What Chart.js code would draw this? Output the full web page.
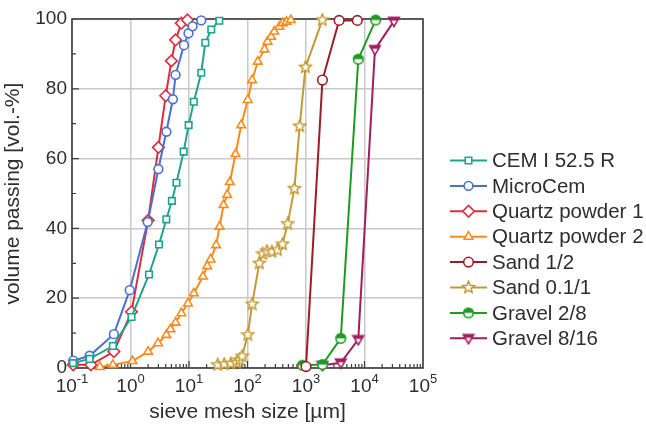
<!DOCTYPE html>
<html>
<head>
<meta charset="utf-8">
<script src="https://cdn.jsdelivr.net/npm/chart.js@4.4.0/dist/chart.umd.min.js"></script>
<style>
  html, body { margin: 0; padding: 0; background: #fff; }
  #wrap { width: 646px; height: 425px; }
</style>
</head>
<body>
<div id="wrap"><canvas id="psdChart"></canvas></div>
<script>
// series names (legend order)
const seriesNames = ['CEM I 52.5 R', 'MicroCem', 'Quartz powder 1', 'Quartz powder 2', 'Sand 1/2', 'Sand 0.1/1', 'Gravel 2/8', 'Gravel 8/16'];

// sieve mesh size [µm] / volume passing [vol.-%]
const cemX = [0.104, 0.2, 0.5, 1.04, 2.07, 3.07, 4.1, 5.1, 6.1, 8.1, 9.85, 12.1, 16.2, 19, 24, 33];
const cemY = [1.4, 2.6, 6.3, 14.6, 26.8, 35.4, 42.6, 47.9, 53.1, 62, 69.6, 76.3, 84.6, 93.2, 97, 99.5];

const microX = [0.105, 0.2, 0.52, 0.97, 1.97, 3.0, 4.1, 5.3, 5.9, 8.2, 9.8, 11.5, 16.2];
const microY = [2.1, 3.5, 9.7, 22.3, 41.8, 57, 67.7, 77, 84, 92.5, 95.9, 97.9, 99.6];

const quartz1X = [0.105, 0.21, 0.52, 1.04, 2.0, 3.0, 4.0, 5.0, 5.9, 7.4, 9.4];
const quartz1Y = [0.9, 0.9, 4.7, 16.1, 42.3, 63.2, 78, 88, 94, 98.8, 99.7];

const quartz2X = [0.3, 0.5, 1.08, 2.0, 2.95, 4.1, 4.8, 5.9, 7.4, 9.6, 12.1, 17.3, 20.5, 23.4, 29.1, 33.3, 38.9, 45, 50, 62.5, 78, 101, 120, 150, 195, 220, 253, 287, 350, 400, 465, 550];
const quartz2Y = [0.3, 0.9, 2.0, 4.7, 7.1, 9.5, 11.1, 13, 15.7, 18.5, 21.4, 26.2, 29.2, 31.1, 35.2, 40.5, 46.7, 49.6, 53.3, 61.3, 69.6, 76.8, 82.5, 87.8, 91.3, 93.5, 94.9, 96.4, 97.8, 98.8, 99.2, 99.7];

const sand12X = [1000, 1910, 3680, 7540];
const sand12Y = [0.4, 82.5, 99.6, 99.6];

const sand011X = [31, 40, 52, 65, 73, 81, 101, 120, 159, 182, 215, 262, 326, 397, 487, 633, 780, 980, 1900];
const sand011Y = [0.9, 1.1, 1.3, 1.5, 2.3, 3.4, 9.5, 18.3, 30, 32.7, 33.5, 33.3, 33.8, 35.5, 41.3, 51.4, 69.3, 86.2, 99.7];

const gravel28X = [870, 1910, 3930, 7830, 15500];
const gravel28Y = [0.8, 1, 8.5, 88.5, 99.7];

const gravel816X = [1910, 3930, 7830, 15100, 31800];
const gravel816Y = [0.8, 1.5, 8.2, 91.3, 99.4];

// tick labels
const xTickPowers = [-1, 0, 1, 2, 3, 4, 5];
const yTickValues = [0, 20, 40, 60, 80, 100];

const seriesX = [cemX, microX, quartz1X, quartz2X, sand12X, sand011X, gravel28X, gravel816X];
const seriesY = [cemY, microY, quartz1Y, quartz2Y, sand12Y, sand011Y, gravel28Y, gravel816Y];

const seriesColors = ['#1fa38c', '#4b70cf', '#dd2c3e', '#ff8a1c', '#9e1c26', '#c49a34', '#1f9a22', '#a01f5f'];

// kleine Marker-Bilder fuer Stern, Halbkreis, Dreieck nach unten
function makeMarker(size, draw) {
    const c = document.createElement('canvas');
    c.width = size;
    c.height = size;
    draw(c.getContext('2d'), size / 2);
    return c;
}

const starMarker = makeMarker(15, function(g, m) {
    g.beginPath();
    for (let i = 0; i < 10; i++) {
        const r = i % 2 === 0 ? 6.2 : 2.8;
        const a = -Math.PI / 2 + i * Math.PI / 5;
        g.lineTo(m + r * Math.cos(a), m + r * Math.sin(a));
    }
    g.closePath();
    g.fillStyle = '#fff';
    g.fill();
    g.strokeStyle = seriesColors[5];
    g.lineWidth = 1.5;
    g.stroke();
});

const halfCircleMarker = makeMarker(13, function(g, m) {
    g.beginPath();
    g.arc(m, m, 4.8, 0, 2 * Math.PI);
    g.fillStyle = '#fff';
    g.fill();
    g.beginPath();
    g.arc(m, m, 4.8, Math.PI, 2 * Math.PI);
    g.closePath();
    g.fillStyle = seriesColors[6];
    g.fill();
    g.beginPath();
    g.arc(m, m, 4.8, 0, 2 * Math.PI);
    g.strokeStyle = seriesColors[6];
    g.lineWidth = 1.6;
    g.stroke();
});

const downTriMarker = makeMarker(14, function(g, m) {
    g.beginPath();
    g.moveTo(m - 5.3, m - 3.6);
    g.lineTo(m + 5.3, m - 3.6);
    g.lineTo(m, m + 5.5);
    g.closePath();
    g.fillStyle = '#fff';
    g.fill();
    g.save();
    g.clip();
    g.fillStyle = seriesColors[7];
    g.fillRect(0, 0, 14, m - 0.5);
    g.restore();
    g.strokeStyle = seriesColors[7];
    g.lineWidth = 1.6;
    g.stroke();
});

const seriesMarkers = [
    { style: 'rect', radius: 4.6 },
    { style: 'circle', radius: 4.4 },
    { style: 'rectRot', radius: 5.8 },
    { style: 'triangle', radius: 5 },
    { style: 'circle', radius: 4.8 },
    { style: starMarker, radius: 6 },
    { style: halfCircleMarker, radius: 5 },
    { style: downTriMarker, radius: 5 }
];

const datasets = seriesNames.map(function(name, i) {
    return {
        label: name,
        data: seriesX[i].map((x, j) => ({ x: x, y: seriesY[i][j] })),
        borderColor: seriesColors[i],
        backgroundColor: '#fff',
        borderWidth: 2,
        tension: 0,
        pointStyle: seriesMarkers[i].style,
        pointRadius: seriesMarkers[i].radius,
        pointBackgroundColor: '#fff',
        pointBorderColor: seriesColors[i],
        pointBorderWidth: 1.6,
        clip: false
    };
});

const textColor = '#2e2e2e';
const axisColor = '#3c3c3c';
Chart.defaults.font.family = '"Liberation Sans", Arial, sans-serif';

function isDecade(v) {
    const l = Math.log10(v);
    return Math.abs(l - Math.round(l)) < 1e-6;
}

// Rahmen, kleine Striche, x-Beschriftung mit Hochzahl, Legende
const framePlugin = {
    id: 'frame',
    beforeDatasetsDraw(chart) {
        const ctx = chart.ctx;
        const a = chart.chartArea;
        const xs = chart.scales.x;
        const ys = chart.scales.y;
        ctx.save();
        ctx.strokeStyle = axisColor;
        ctx.lineWidth = 1.6;
        ctx.strokeRect(a.left, a.top, a.right - a.left, a.bottom - a.top);
        ctx.lineWidth = 1.2;
        ctx.beginPath();
        for (let d = -1; d < 5; d++) {
            for (let k = 1; k <= 9; k++) {
                const px = xs.getPixelForValue(k * Math.pow(10, d));
                const len = k === 1 ? 7 : 4;
                ctx.moveTo(px, a.bottom);
                ctx.lineTo(px, a.bottom - len);
            }
        }
        for (let v = 10; v < 100; v += 10) {
            const py = ys.getPixelForValue(v);
            const len = v % 20 === 0 ? 7 : 4;
            ctx.moveTo(a.left, py);
            ctx.lineTo(a.left + len, py);
        }
        ctx.stroke();
        ctx.restore();
    },
    afterDraw(chart) {
        const ctx = chart.ctx;
        const a = chart.chartArea;
        const xs = chart.scales.x;
        ctx.save();
        ctx.fillStyle = textColor;
        ctx.textBaseline = 'alphabetic';
        ctx.textAlign = 'left';
        xTickPowers.forEach(function(p) {
            const px = xs.getPixelForValue(Math.pow(10, p));
            ctx.font = '19px "Liberation Sans", Arial, sans-serif';
            const w1 = ctx.measureText('10').width;
            ctx.font = '13px "Liberation Sans", Arial, sans-serif';
            const w2 = ctx.measureText(String(p)).width;
            const x0 = px - (w1 + w2) / 2;
            ctx.font = '19px "Liberation Sans", Arial, sans-serif';
            ctx.fillText('10', x0, a.bottom + 24);
            ctx.font = '13px "Liberation Sans", Arial, sans-serif';
            ctx.fillText(String(p), x0 + w1, a.bottom + 15);
        });

        // Legende
        chart.data.datasets.forEach(function(ds, i) {
            const y = 160.5 + i * 25.4;
            ctx.strokeStyle = ds.borderColor;
            ctx.lineWidth = 2;
            ctx.beginPath();
            ctx.moveTo(450, y);
            ctx.lineTo(487, y);
            ctx.stroke();
            ctx.fillStyle = '#fff';
            ctx.lineWidth = 1.6;
            Chart.helpers.drawPoint(ctx, {
                pointStyle: ds.pointStyle,
                radius: ds.pointRadius,
                rotation: 0,
                borderWidth: 1.6
            }, 468.5, y);
            ctx.fillStyle = textColor;
            ctx.font = '20.5px "Liberation Sans", Arial, sans-serif';
            ctx.textBaseline = 'middle';
            ctx.fillText(ds.label, 492, y + 1);
        });
        ctx.restore();
    }
};

const ctx = document.getElementById('psdChart').getContext('2d');
const psdChart = new Chart(ctx, {
    type: 'line',
    data: { datasets: datasets },
    options: {
        responsive: true,
        maintainAspectRatio: false,
        animation: false,
        layout: { padding: { top: 19, right: 223, left: 0, bottom: 0 } },
        plugins: {
            legend: { display: false },
            tooltip: { enabled: false }
        },
        scales: {
            x: {
                type: 'logarithmic',
                min: 0.1,
                max: 1e5,
                border: { display: false },
                grid: {
                    drawTicks: false,
                    lineWidth: 1.5,
                    color: c => (c.tick && isDecade(c.tick.value)) ? '#c8c8c8' : 'rgba(0,0,0,0)'
                },
                ticks: { display: false, autoSkip: false },
                title: {
                    display: true,
                    text: 'sieve mesh size [µm]',
                    color: textColor,
                    font: { size: 21 },
                    padding: 0
                },
                afterFit: function(scale) { scale.height = 57; }
            },
            y: {
                min: 0,
                max: 100,
                border: { display: false },
                grid: { drawTicks: false, lineWidth: 1.5, color: '#c8c8c8' },
                ticks: {
                    stepSize: 20,
                    padding: 5,
                    color: textColor,
                    font: { size: 19 },
                    callback: v => yTickValues.includes(v) ? String(v) : ''
                },
                title: {
                    display: true,
                    text: 'volume passing [vol.-%]',
                    color: textColor,
                    font: { size: 21 },
                    padding: { top: 1, bottom: 0 }
                },
                afterFit: function(scale) { scale.width = 72; }
            }
        }
    },
    plugins: [framePlugin]
});
</script>
</body>
</html>
